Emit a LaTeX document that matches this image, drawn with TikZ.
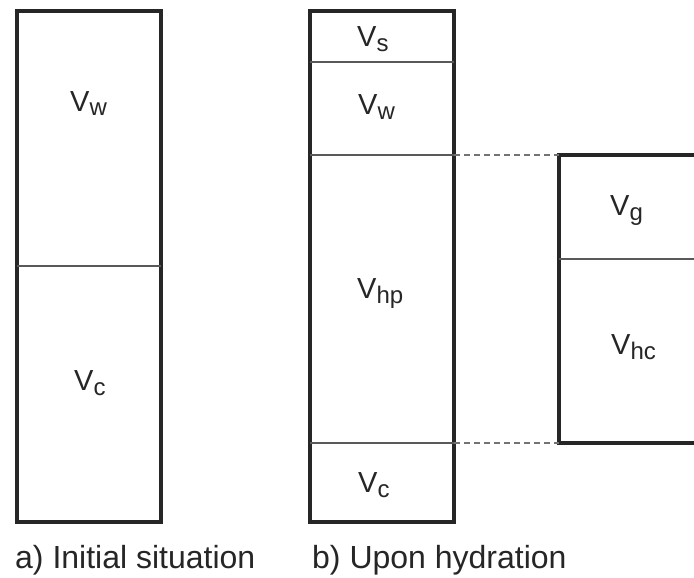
\documentclass[tikz,border=0pt]{standalone}
\usepackage{fontspec}
\setmainfont{Liberation Sans}
\newcommand{\vlab}[1]{V\raisebox{-5pt}{\fontsize{24}{24}\selectfont #1}}
\begin{document}
\begin{tikzpicture}[x=1pt,y=-1pt,
  frame/.style={line width=4pt, draw=black!85},
  divider/.style={line width=1.5pt, draw=black!65},
  guide/.style={line width=1.4pt, draw=black!55, dash pattern=on 6pt off 4pt},
  lab/.style={anchor=base west, inner sep=0pt, font=\fontsize{29}{29}\selectfont, text=black!85},
  captext/.style={anchor=base west, inner sep=0pt, font=\fontsize{32}{32}\selectfont, text=black!85}]
\useasboundingbox (0,0) rectangle (694,578);
\fill[white] (0,0) rectangle (694,578);
% left box
\draw[frame] (17,11) rectangle (161,522);
\draw[divider] (17,266) -- (161,266);
\node[lab] (lw) at (70,111) {\vlab{w}};
\node[lab] (lc) at (74,390) {\vlab{c}};
% middle box
\draw[frame] (310,11) rectangle (454,522);
\draw[divider] (310,62) -- (454,62);
\coordinate (mt) at (454,155);
\coordinate (mb) at (454,443);
\draw[divider] (310,155) -- (mt);
\draw[divider] (310,443) -- (mb);
\node[lab] (ms) at (357,47) {\vlab{s}};
\node[lab] (mw) at (358,114) {\vlab{w}};
\node[lab] (mhp) at (357,298) {\vlab{hp}};
\node[lab] (mc) at (358,492) {\vlab{c}};
% right box
\coordinate (rt) at (559,155);
\coordinate (rb) at (559,443);
\draw[frame, line join=miter] (694,155) -- (rt) -- (rb) -- (694,443);
\draw[divider] (559,259) -- (694,259);
\node[lab] (rg) at (610,215) {\vlab{g}};
\node[lab] (rhc) at (611,354) {\vlab{hc}};
% dashed guides
\draw[guide] (mt) -- (rt);
\draw[guide] (mb) -- (rb);
% captions
\node[captext] (ca) at (15,568) {a) Initial situation};
\node[captext] (cb) at (312,568) {b) Upon hydration};
\end{tikzpicture}
\end{document}
